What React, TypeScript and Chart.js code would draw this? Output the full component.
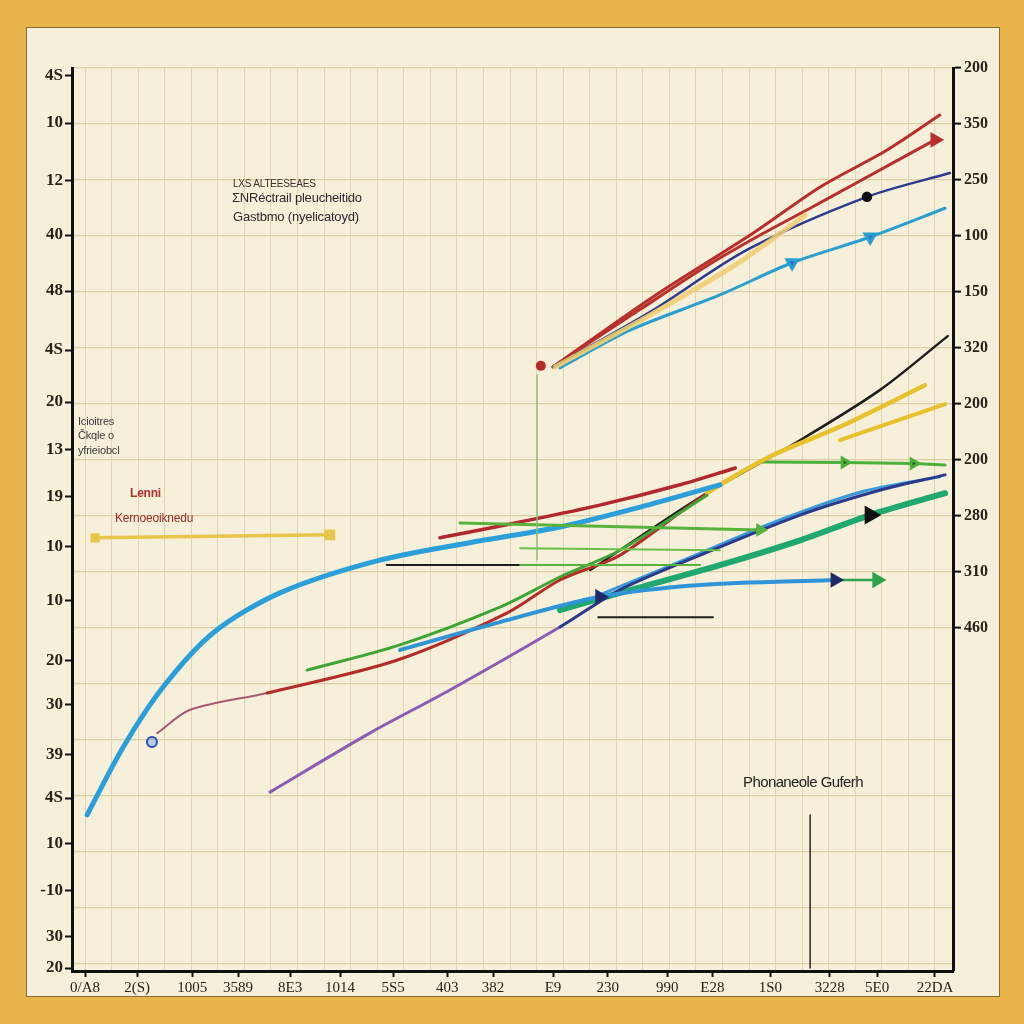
import React, { useEffect, useRef } from 'react';
import { Chart, registerables } from 'chart.js';
Chart.register(...registerables);

// ---- axis labels ----
const leftLabels = ['4S', '10', '12', '40', '48', '4S', '20', '13', '19', '10', '10', '20', '30', '39', '4S', '10', '-10', '30', '20'];
const leftTickValues = [18, 17.05, 15.88, 14.79, 13.66, 12.47, 11.42, 10.47, 9.52, 8.51, 7.41, 6.21, 5.31, 4.3, 3.43, 2.52, 1.57, 0.63, 0];
const rightLabels = ['200', '350', '250', '100', '150', '320', '200', '200', '280', '310', '460'];
const bottomLabels = ['0/A8', '2(S)', '1005', '3589', '8E3', '1014', '5S5', '403', '382', 'E9', '230', '990', 'E28', '1S0', '3228', '5E0', '22DA'];
const bottomTickValues = [0, 0.98, 2.02, 2.88, 3.86, 4.8, 5.8, 6.82, 7.68, 8.81, 9.84, 10.96, 11.81, 12.9, 14.02, 14.91, 16];

// ---- series ----
const blueCurveX = [0.04, 0.72, 1.47, 2.41, 3.67, 5.55, 7.44, 8.94, 10.45, 11.95];
const blueCurveY = [3.09, 4.46, 5.67, 6.76, 7.57, 8.23, 8.62, 8.9, 9.3, 9.75];
const darkRedX = [6.68, 8.19, 9.69, 11.2, 12.24];
const darkRedY = [8.68, 9.0, 9.34, 9.75, 10.09];
const riseX = [1.36, 1.98, 3.43, 5.87, 7.94, 8.94, 10.07, 11.71, 12.95, 14.21, 15.81];
const riseY = [4.74, 5.21, 5.55, 6.21, 7.16, 7.83, 8.33, 9.58, 10.35, 10.92, 11.76];
const blackX = [9.51, 11.58, 13.46, 14.96, 16.24];
const blackY = [8.03, 9.5, 10.65, 11.66, 12.75];
const purpleX = [3.48, 5.36, 6.87, 8.94, 10.07, 11.58, 13.46, 14.96, 16.19];
const purpleY = [3.55, 4.74, 5.61, 6.88, 7.63, 8.33, 9.14, 9.64, 9.95];
const greenDiagX = [4.18, 5.93, 7.81, 8.94, 10.07, 11.71];
const greenDiagY = [6.01, 6.52, 7.28, 7.89, 8.43, 9.54];
const tealX = [8.94, 10.07, 11.95, 13.46, 14.78, 16.19];
const tealY = [7.22, 7.57, 8.13, 8.63, 9.14, 9.58];
const bundleBlueX = [9.69, 11.58, 13.08, 14.59, 16.09];
const bundleBlueY = [7.53, 8.37, 9.04, 9.6, 9.91];
const lowBlueX = [5.93, 7.81, 9.69, 11.58, 14.12];
const lowBlueY = [6.42, 6.98, 7.49, 7.73, 7.83];
const greenArrowX = [14.12, 14.91];
const greenArrowY = [7.83, 7.83];
const greenFlat1X = [7.06, 12.71];
const greenFlat1Y = [8.98, 8.84];
const greenFlat2X = [8.19, 11.95];
const greenFlat2Y = [8.47, 8.43];
const blackFlatX = [5.68, 8.19];
const blackFlatY = [8.13, 8.13];
const greenFlat3X = [8.19, 11.58];
const greenFlat3Y = [8.13, 8.13];
const blackFlat2X = [9.66, 11.82];
const blackFlat2Y = [7.08, 7.08];
const greenUpperX = [12.76, 14.3, 15.6, 16.19];
const greenUpperY = [10.21, 10.2, 10.18, 10.15];
const yellowShortX = [14.21, 16.19];
const yellowShortY = [10.65, 11.38];
const red1X = [8.81, 10.69, 12.58, 13.84, 15.09, 16.09];
const red1Y = [12.13, 13.54, 14.83, 15.76, 16.5, 17.21];
const red2X = [8.81, 10.45, 11.71, 12.71, 13.7, 14.45, 16.0];
const red2Y = [12.13, 13.29, 14.17, 14.79, 15.36, 15.8, 16.71];
const navyX = [8.81, 10.64, 12.46, 14.72, 16.28];
const navyY = [12.13, 13.24, 14.49, 15.56, 16.04];
const cyanX = [8.94, 10.26, 11.95, 13.31, 14.78, 16.19];
const cyanY = [12.11, 12.87, 13.58, 14.23, 14.75, 15.33];
const yellowUpX = [8.85, 10.64, 12.33, 13.55];
const yellowUpY = [12.13, 13.18, 14.25, 15.19];
const greenThinX = [8.85, 10.45];
const greenThinY = [12.13, 13.07];
const redDotX = [8.58];
const redDotY = [12.15];
const blueDotX = [1.26];
const blueDotY = [4.56];
const legendLineX = [0.19, 4.61];
const legendLineY = [8.68, 8.74];
const markerLineX = [13.65, 13.65];
const markerLineY = [3.09, 0];
const faintLineX = [8.51, 8.51];
const faintLineY = [11.97, 8.23];

const notes = [
  { text: 'LXS ALTEESEAES', x: 233, y: 179, size: 10, color: '#3a3226', weight: 'normal' },
  { text: 'ΣNRéctrail pleucheitido', x: 232, y: 191, size: 13, color: '#2c2a2a', weight: 'normal' },
  { text: 'Gastbmo (nyelicatoyd)', x: 233, y: 210, size: 13, color: '#2c2a2a', weight: 'normal' },
  { text: 'Icioitres', x: 78, y: 416, size: 11, color: '#3a3a3a', weight: 'normal' },
  { text: 'Čkqle o', x: 78, y: 430, size: 11, color: '#3a3a3a', weight: 'normal' },
  { text: 'yfrieiobcl', x: 78, y: 445, size: 11, color: '#3a3a3a', weight: 'normal' },
  { text: 'Lenni', x: 130, y: 487, size: 12, color: '#b0302c', weight: 'bold' },
  { text: 'Kernoeoiknedu', x: 115, y: 512, size: 12, color: '#9a2c2a', weight: 'normal' },
  { text: 'Phonaneole Guferh', x: 743, y: 774, size: 15, color: '#222222', weight: 'normal' },
];

const pts = (xs: number[], ys: number[]) => xs.map((x, i) => ({ x, y: ys[i] }));

function line(label: string, xs: number[], ys: number[], color: string, width: number, extra: any = {}) {
  return {
    label,
    data: pts(xs, ys),
    borderColor: color,
    backgroundColor: color,
    borderWidth: width,
    pointRadius: 0,
    tension: 0.3,
    borderCapStyle: 'round',
    ...extra,
  };
}

function endArrow(n: number, size = 5) {
  return Array.from({ length: n }, (_, i) => (i === n - 1 ? size : 0));
}

export default function App() {
  const ref = useRef<HTMLCanvasElement | null>(null);

  useEffect(() => {
    if (!ref.current) return;
    const tri = { pointStyle: 'triangle', rotation: 90 };
    const datasets: any[] = [
      line('faint', faintLineX, faintLineY, 'rgba(140,190,120,0.7)', 1, { tension: 0 }),
      line('marker', markerLineX, markerLineY, '#2a2a2a', 1.5, { tension: 0 }),
      line('legend', legendLineX, legendLineY, '#e8c64c', 3.5, { tension: 0, pointRadius: [4, 5], pointStyle: 'rect' }),
      line('greenFlat1', greenFlat1X, greenFlat1Y, '#58b23c', 3, { tension: 0, pointRadius: endArrow(2, 5), ...tri }),
      line('greenFlat2', greenFlat2X, greenFlat2Y, '#6cc04a', 2, { tension: 0 }),
      line('greenFlat3', greenFlat3X, greenFlat3Y, '#58b23c', 2, { tension: 0 }),
      line('blackFlat', blackFlatX, blackFlatY, '#1e1e1e', 2, { tension: 0, pointRadius: [0, 0], ...tri }),
      line('blackFlat2', blackFlat2X, blackFlat2Y, '#1e1e1e', 2, { tension: 0 }),
      line('lowBlue', lowBlueX, lowBlueY, '#2f95d6', 4, { pointRadius: [0, 0, 5, 0, 5], pointStyle: 'triangle', rotation: 90, pointBackgroundColor: '#1e2a6a', pointBorderColor: '#1e2a6a' }),
      line('greenArrow', greenArrowX, greenArrowY, '#2ea34a', 2.5, { tension: 0, pointRadius: [0, 7], ...tri }),
      line('purple', purpleX, purpleY, '#8d5bb5', 3, {
        segment: { borderColor: (c: any) => (c.p0DataIndex < 3 ? '#8d5bb5' : '#2b3a8c') },
      }),
      line('teal', tealX, tealY, '#1fa86f', 6, { pointRadius: [0, 0, 0, 0, 5, 0], ...tri, pointBackgroundColor: '#111', pointBorderColor: '#111' }),
      line('bundleBlue', bundleBlueX, bundleBlueY, '#3a9ad8', 3),
      line('greenDiag', greenDiagX, greenDiagY, '#3fa535', 3),
      line('blueCurve', blueCurveX, blueCurveY, '#2b9fd9', 5),
      line('darkRed', darkRedX, darkRedY, '#b3282d', 3.5),
      line('rise', riseX, riseY, '#b52b26', 3, {
        segment: {
          borderColor: (c: any) => (c.p0DataIndex < 2 ? '#a85a78' : c.p0DataIndex < 7 ? '#b52b26' : '#e7c22c'),
          borderWidth: (c: any) => (c.p0DataIndex < 2 ? 2 : c.p0DataIndex < 7 ? 3 : 4.5),
        },
      }),
      line('black', blackX, blackY, '#1e1e1e', 2.5),
      line('greenUpper', greenUpperX, greenUpperY, '#4cb03a', 3, { tension: 0, pointRadius: [0, 5, 5, 0], ...tri, pointBackgroundColor: '#1e5a2a' }),
      line('yellowShort', yellowShortX, yellowShortY, '#e8c22c', 4, { tension: 0 }),
      line('yellowUp', yellowUpX, yellowUpY, 'rgba(240,205,110,0.85)', 5),
      line('greenThin', greenThinX, greenThinY, '#5aa845', 1.5, { tension: 0 }),
      line('cyan', cyanX, cyanY, '#2a9fd0', 3, { pointRadius: [0, 0, 0, 6, 6, 0], pointStyle: 'triangle', rotation: 180, pointBackgroundColor: '#2c6fd0' }),
      line('navy', navyX, navyY, '#2a3a90', 2.5, { pointRadius: [0, 0, 0, 4, 0], pointBackgroundColor: '#111', pointBorderColor: '#111' }),
      line('red2', red2X, red2Y, '#b8302c', 3, { pointRadius: endArrow(7, 6), ...tri }),
      line('red1', red1X, red1Y, '#b82e2a', 3),
      line('redDot', redDotX, redDotY, '#b52b26', 0, { pointRadius: 5 }),
      line('blueDot', blueDotX, blueDotY, '#2a4fb0', 0, { pointRadius: 5, pointBackgroundColor: 'rgba(120,170,230,0.5)', pointBorderColor: '#2a4fb0', pointBorderWidth: 2 }),
    ];

    const tickFont = { family: 'Liberation Serif', size: 17, weight: 'bold' as const };

    const chart = new Chart(ref.current, {
      type: 'line',
      data: { datasets },
      options: {
        animation: false,
        responsive: false,
        devicePixelRatio: 1,
        layout: { padding: { top: 68, left: 0, right: 0, bottom: 0 } },
        plugins: { legend: { display: false }, tooltip: { enabled: false } },
        scales: {
          x: {
            type: 'linear',
            position: 'bottom',
            min: -0.245,
            max: 16.339,
            afterBuildTicks: (s: any) => {
              const t = [];
              for (let i = 0; i <= 32; i++) t.push({ value: i / 2 });
              s.ticks = t;
            },
            afterFit: (s: any) => { s.height = 0; },
            ticks: { display: false },
            border: { display: false },
            grid: { color: '#e2d4ae', lineWidth: 1, drawTicks: false },
          },
          xLab: {
            type: 'linear',
            position: 'bottom',
            min: -0.245,
            max: 16.339,
            afterBuildTicks: (s: any) => { s.ticks = bottomTickValues.map((v) => ({ value: v })); },
            afterFit: (s: any) => { s.height = 53; },
            ticks: {
              autoSkip: false,
              maxRotation: 0,
              padding: 2,
              color: '#2a2218',
              font: { family: 'Liberation Serif', size: 15, weight: 'normal' },
              callback: (_v: any, i: number) => bottomLabels[i],
            },
            border: { display: true, color: '#111', width: 3 },
            grid: { drawOnChartArea: false, tickLength: 6, tickColor: '#111', tickWidth: 2 },
          },
          y: {
            type: 'linear',
            position: 'left',
            min: -0.06,
            max: 18.16,
            afterBuildTicks: (s: any) => { s.ticks = leftTickValues.map((v) => ({ value: v })); },
            afterFit: (s: any) => { s.width = 72; },
            ticks: {
              autoSkip: false,
              padding: 2,
              color: '#2a2218',
              font: tickFont,
              callback: (_v: any, i: number) => leftLabels[i],
            },
            border: { display: true, color: '#111', width: 3 },
            grid: { drawOnChartArea: false, tickLength: 7, tickColor: '#111', tickWidth: 2 },
          },
          y2: {
            type: 'linear',
            position: 'right',
            min: 0,
            max: 16.13,
            reverse: true,
            afterBuildTicks: (s: any) => {
              const t = [];
              for (let i = 0; i <= 16; i++) t.push({ value: i });
              s.ticks = t;
            },
            afterFit: (s: any) => { s.width = 71; },
            ticks: {
              autoSkip: false,
              padding: 3,
              color: '#2a2218',
              font: { family: 'Liberation Serif', size: 16, weight: 'bold' },
              callback: (_v: any, i: number) => rightLabels[i] ?? '',
            },
            border: { display: true, color: '#111', width: 3 },
            grid: {
              drawOnChartArea: true,
              color: '#dccfa6',
              lineWidth: 1.2,
              tickLength: 8,
              tickColor: (c: any) => (c.index < rightLabels.length ? '#111' : 'rgba(0,0,0,0)'),
              tickWidth: 2,
            },
          },
        },
      } as any,
    });
    return () => chart.destroy();
  }, []);

  return (
    <div style={{ position: 'absolute', left: 0, top: 0, width: 1024, height: 1024, background: '#e9b54b', overflow: 'hidden' }}>
      <div style={{ position: 'absolute', left: 26, top: 27, width: 974, height: 970, background: '#f6efda', border: '1px solid #8a6a3a', boxSizing: 'border-box' }} />
      <canvas ref={ref} width={1024} height={1024} style={{ position: 'absolute', left: 0, top: 0, width: 1024, height: 1024 }} />
      {notes.map((n, i) => (
        <div
          key={i}
          style={{
            position: 'absolute',
            left: n.x,
            top: n.y,
            fontFamily: 'Liberation Sans, sans-serif',
            fontSize: n.size,
            lineHeight: 1,
            color: n.color,
            fontWeight: n.weight as any,
            whiteSpace: 'nowrap',
            letterSpacing: n.size >= 15 ? -0.6 : -0.2,
          }}
        >
          {n.text}
        </div>
      ))}
    </div>
  );
}
